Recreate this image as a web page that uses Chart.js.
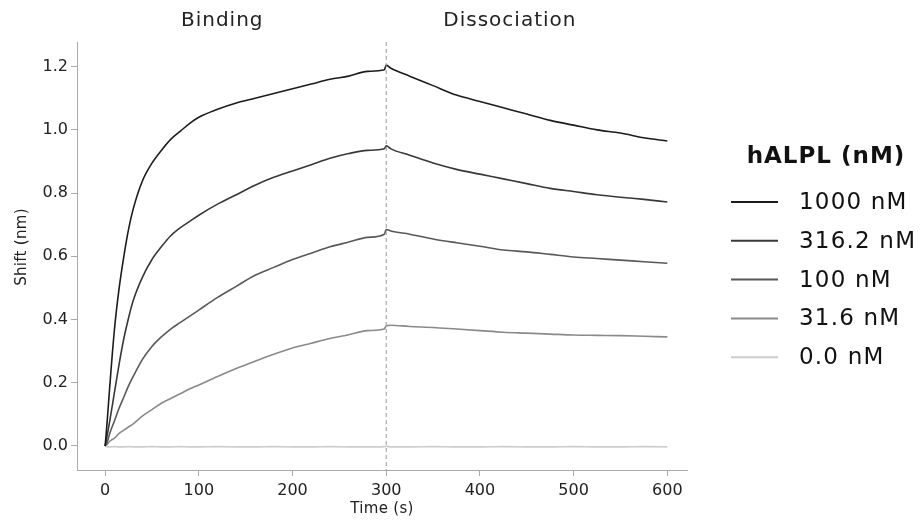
<!DOCTYPE html>
<html>
<head>
<meta charset="utf-8">
<script src="https://cdn.jsdelivr.net/npm/chart.js@4.4.1/dist/chart.umd.min.js"></script>
<style>
  body { margin: 0; background: #fff; }
  #wrap { width: 922px; height: 522px; position: relative; }
</style>
</head>
<body>
<div id="wrap"><canvas id="bliChart"></canvas></div>
<script>
// Time points (s)
const times = [0, 2, 5, 10, 15, 20, 25, 30, 40, 50, 60, 70, 80, 90, 100, 120, 140, 160, 180, 200, 220, 240, 260, 280, 298,
               300, 305, 325, 350, 375, 400, 425, 450, 475, 500, 525, 550, 575, 600];

// Shift (nm) per concentration
const s1000 = [0, 0.07, 0.19, 0.37, 0.50, 0.60, 0.685, 0.75, 0.84, 0.895, 0.935, 0.97, 0.995, 1.02, 1.04, 1.065, 1.085, 1.10, 1.115, 1.13, 1.145, 1.16, 1.17, 1.185, 1.19,
               1.205, 1.195, 1.17, 1.14, 1.11, 1.09, 1.07, 1.05, 1.03, 1.015, 1.0, 0.99, 0.975, 0.965];
const s316 = [0, 0.03, 0.08, 0.17, 0.26, 0.34, 0.405, 0.46, 0.535, 0.59, 0.63, 0.665, 0.69, 0.71, 0.73, 0.765, 0.795, 0.825, 0.85, 0.87, 0.89, 0.91, 0.925, 0.935, 0.94,
              0.95, 0.94, 0.92, 0.895, 0.875, 0.86, 0.845, 0.83, 0.815, 0.805, 0.795, 0.787, 0.78, 0.772];
const s100 = [0, 0.01, 0.04, 0.08, 0.12, 0.155, 0.19, 0.22, 0.275, 0.315, 0.345, 0.37, 0.39, 0.41, 0.43, 0.47, 0.505, 0.54, 0.565, 0.59, 0.61, 0.63, 0.645, 0.66, 0.67,
              0.685, 0.68, 0.67, 0.655, 0.643, 0.632, 0.62, 0.614, 0.606, 0.598, 0.593, 0.588, 0.583, 0.578];
const s31 = [0, 0.005, 0.015, 0.025, 0.04, 0.05, 0.06, 0.07, 0.095, 0.115, 0.135, 0.15, 0.165, 0.18, 0.193, 0.22, 0.245, 0.268, 0.29, 0.31, 0.325, 0.34, 0.352, 0.365, 0.37,
             0.38, 0.382, 0.378, 0.375, 0.37, 0.365, 0.36, 0.357, 0.354, 0.351, 0.35, 0.349, 0.347, 0.345];
const s0 = [0, -0.002, -0.003, -0.002, -0.003, -0.003, -0.002, -0.003, -0.003, -0.002, -0.003, -0.003, -0.002, -0.003, -0.003, -0.002, -0.003, -0.003, -0.002, -0.003, -0.003, -0.002, -0.003, -0.003, -0.002,
            -0.001, -0.003, -0.003, -0.002, -0.003, -0.003, -0.002, -0.003, -0.003, -0.002, -0.003, -0.003, -0.002, -0.003];

const seriesLabels = ['1000 nM', '316.2 nM', '100 nM', '31.6 nM', '0.0 nM'];
const seriesColors = ['#1c1c1c', '#383838', '#595959', '#8a8a8a', '#cccccc'];
const seriesValues = [s1000, s316, s100, s31, s0];

const xTicks = [0, 100, 200, 300, 400, 500, 600];
const yTicks = [0.0, 0.2, 0.4, 0.6, 0.8, 1.0, 1.2];
const phaseLabels = [{ text: 'Binding', x: 125 }, { text: 'Dissociation', x: 432 }];
const switchTime = 300;

const FONT = '"DejaVu Sans", sans-serif';

// dashed line at the phase switch, phase labels, axis titles
const phasePlugin = {
    id: 'phasePlugin',
    afterDatasetsDraw(chart) {
        const { ctx, chartArea, scales } = chart;
        const px = scales.x.getPixelForValue(switchTime);
        ctx.save();
        ctx.strokeStyle = '#9a9a9a';
        ctx.lineWidth = 1;
        ctx.setLineDash([4, 3]);
        ctx.beginPath();
        ctx.moveTo(px, chartArea.top);
        ctx.lineTo(px, chartArea.bottom);
        ctx.stroke();
        ctx.setLineDash([]);
        ctx.fillStyle = '#222';
        ctx.textAlign = 'center';
        ctx.textBaseline = 'middle';
        ctx.font = '20px ' + FONT;
        ctx.letterSpacing = '1px';
        phaseLabels.forEach(p => {
            ctx.fillText(p.text, scales.x.getPixelForValue(p.x), 21);
        });
        // axis titles
        ctx.font = '15px ' + FONT;
        ctx.letterSpacing = '0.3px';
        ctx.fillText('Time (s)', (chartArea.left + chartArea.right) / 2, 509);
        ctx.translate(22, 247);
        ctx.rotate(-Math.PI / 2);
        ctx.fillText('Shift (nm)', 0, 0);
        ctx.restore();
    }
};

// legend drawn at the right side
const sideLegend = {
    id: 'sideLegend',
    afterDraw(chart) {
        const { ctx } = chart;
        ctx.save();
        ctx.fillStyle = '#111';
        ctx.font = 'bold 23px ' + FONT;
        ctx.letterSpacing = '1px';
        ctx.textAlign = 'center';
        ctx.textBaseline = 'middle';
        ctx.fillText('hALPL (nM)', 826, 157);
        ctx.font = '23px ' + FONT;
        ctx.letterSpacing = '1.2px';
        ctx.textAlign = 'left';
        chart.data.datasets.forEach((ds, i) => {
            const y = 202 + i * 38.8;
            ctx.strokeStyle = ds.borderColor;
            ctx.lineWidth = 2;
            ctx.beginPath();
            ctx.moveTo(731, y);
            ctx.lineTo(778, y);
            ctx.stroke();
            ctx.fillStyle = '#111';
            ctx.fillText(ds.label, 799, y + 1);
        });
        ctx.restore();
    }
};

const datasets = seriesLabels.map((label, i) => ({
    label: label,
    data: times.map((t, j) => ({ x: t, y: seriesValues[i][j] })),
    borderColor: seriesColors[i],
    borderWidth: 1.6,
    pointRadius: 0,
    cubicInterpolationMode: 'monotone',
    fill: false
}));

const axisFont = { family: FONT, size: 16 };

new Chart(document.getElementById('bliChart'), {
    type: 'line',
    data: { datasets: datasets },
    options: {
        responsive: true,
        maintainAspectRatio: false,
        animation: false,
        layout: { padding: { left: 0, top: 42, right: 235, bottom: 0 } },
        plugins: {
            legend: { display: false },
            tooltip: { enabled: false }
        },
        scales: {
            x: {
                type: 'linear',
                min: -30,
                max: 621,
                afterBuildTicks: s => { s.ticks = xTicks.map(v => ({ value: v })); },
                afterFit: s => { s.height = 52; },
                ticks: { color: '#222', font: axisFont, padding: 5 },
                grid: { drawOnChartArea: false, drawTicks: true, tickLength: 6, color: '#aaa' },
                border: { display: true, color: '#aaa' }
            },
            y: {
                min: -0.076,
                max: 1.278,
                afterBuildTicks: s => { s.ticks = yTicks.map(v => ({ value: v })); },
                afterFit: s => { s.width = 77; },
                ticks: { color: '#222', font: axisFont, padding: 3, callback: v => v.toFixed(1) },
                grid: { drawOnChartArea: false, drawTicks: true, tickLength: 6, color: '#aaa' },
                border: { display: true, color: '#aaa' }
            }
        }
    },
    plugins: [phasePlugin, sideLegend]
});
</script>
</body>
</html>
